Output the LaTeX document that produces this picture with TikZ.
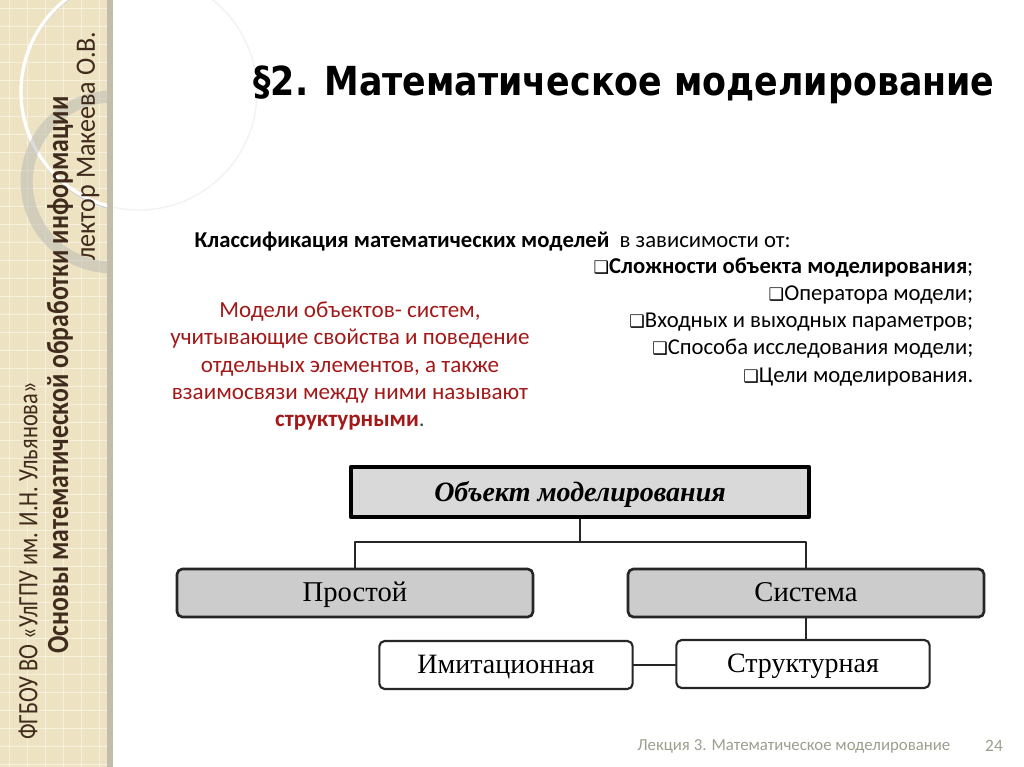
\documentclass[tikz,border=0pt]{standalone}
\usepackage{fontspec}
\setmainfont{Carlito}
\newfontfamily\titlefont{DejaVu Sans}
\newfontfamily\boxfont{Liberation Serif}
\newfontfamily\symfont{DejaVu Sans}
\usetikzlibrary{positioning}
\definecolor{stripbg}{rgb}{0.93,0.89,0.76}
\definecolor{stripedge}{rgb}{0.76,0.74,0.67}
\definecolor{brwn}{rgb}{0.25,0.17,0.11}
\definecolor{rrred}{rgb}{0.64,0.10,0.10}
\definecolor{ggray}{rgb}{0.62,0.62,0.56}
\definecolor{boxgray}{rgb}{0.80,0.80,0.80}
\definecolor{topgray}{rgb}{0.85,0.85,0.85}
\newcommand{\qb}{{\symfont\fontsize{13}{14}\selectfont ❑}}

\begin{document}
\begin{tikzpicture}[x=0.75pt,y=-0.75pt,line cap=round,line join=round,
  sidetext/.style={rotate=90,text=brwn,font=\fontsize{21}{22}\selectfont},
  listline/.style={anchor=east,font=\fontsize{17}{19}\selectfont},
  topbox/.style={draw=black,line width=3pt,fill=topgray,minimum width=343pt,minimum height=38pt,
    text height=14pt,text depth=0pt,font=\boxfont\bfseries\itshape\fontsize{21}{23}\selectfont},
  graybox/.style={draw=black!85,line width=2pt,rounded corners=4pt,fill=boxgray,minimum width=267pt,
    minimum height=36pt,text height=14pt,text depth=1pt,font=\boxfont\fontsize{21.5}{23}\selectfont},
  whitebox/.style={draw=black!85,line width=1.6pt,rounded corners=4pt,fill=white,minimum width=190pt,
    minimum height=36pt,text height=14pt,text depth=1pt,font=\boxfont\fontsize{21}{23}\selectfont},
  link/.style={draw=black!85,line width=1.5pt}]
\useasboundingbox (0,0) rectangle (1024,767);
\fill[white] (0,0) rectangle (1024,767);
\fill[stripbg] (0,0) rectangle (107,767);
\foreach \x in {9,27,...,99}
\draw[white,opacity=0.45,line width=0.5pt] (\x,0) -- (\x,767);
\foreach \y in {8,26,...,767}
\draw[white,opacity=0.45,line width=0.5pt] (0,\y) -- (107,\y);
\fill[stripedge] (107,0) rectangle (113,767);
\begin{scope}
\clip (0,0) rectangle (107,767);
\draw[black!20,line width=1.2pt] (139,94) circle (88.5pt);
\draw[white,line width=2.5pt] (139,92) circle (88.5pt);
\draw[black!30,line width=9pt,opacity=0.45] (112,182) circle (64pt);
\end{scope}
\begin{scope}
\clip (113,0) rectangle (300,300);
\draw[black!5,line width=1pt] (139,92) circle (88.5pt);
\end{scope}
\node[sidetext] (uni) at (28,561) {\scalebox{0.8}[1]{ФГБОУ ВО «УлГПУ им. И.Н. Ульянова»}};
\node[sidetext,font=\bfseries\fontsize{23}{24}\selectfont] (course) at (60,375)
  {\scalebox{0.84}[1]{Основы математической обработки информации}};
\node[sidetext] (lector) at (88,146) {\scalebox{0.93}[1]{лектор  Макеева О.В.}};

\node[font=\titlefont\bfseries\fontsize{30}{34}\selectfont] (title) at (624,85)
  {\scalebox{0.87}[1]{§2. Математическое моделирование}};

\node[anchor=west,font=\fontsize{17}{19}\selectfont] (head) at (190,242)
  {\textbf{Классификация математических моделей}\ \ в зависимости от:};
\node[listline] (l1) at (978,268) {\qb\textbf{Сложности объекта моделирования};};
\node[listline] (l2) at (978,295) {\qb Оператора модели;};
\node[listline] (l3) at (978,322) {\qb Входных и выходных параметров;};
\node[listline] (l4) at (978,349) {\qb Способа исследования модели;};
\node[listline] (l5) at (978,377) {\qb Цели моделирования.};

\node[align=center,text=rrred,font=\fontsize{17.3}{20.3}\selectfont] (note) at (350,366)
  {Модели объектов- систем,\\учитывающие свойства и поведение\\отдельных элементов, а также\\взаимосвязи между ними называют\\\textbf{структурными}\textcolor{black!70}{.}};

\node[topbox] (obj) at (580,492) {Объект моделирования};
\node[graybox] (prost) at (355,593) {Простой};
\node[graybox] (sist) at (806,593) {Система};
\node[whitebox] (imit) at (506,665) {Имитационная};
\node[whitebox] (struct) at (803,664) {Структурная};

\coordinate (fork) at (obj.south |- 0,542);
\draw[link] (obj.south) -- (fork);
\draw[link] (prost.north) |- (fork) -| (sist.north);
\draw[link] (sist.south) -- (sist.south |- struct.north);
\draw[link] (imit.east) -- (imit.east -| struct.west);

\node[anchor=east,text=ggray,font=\fontsize{12.6}{15}\selectfont] (foot) at (955,746) {Лекция 3. Математическое моделирование};
\node[text=ggray,font=\fontsize{13}{15}\selectfont] (page) at (994,746) {24};
\end{tikzpicture}
\end{document}
